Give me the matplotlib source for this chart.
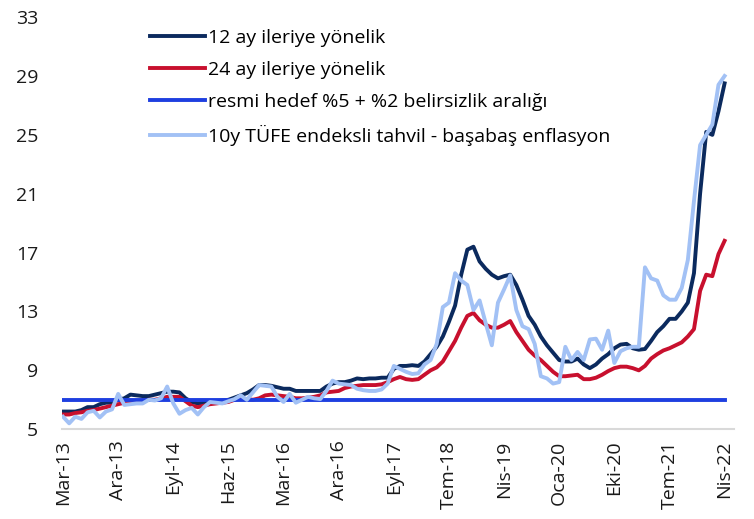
import numpy as np
import matplotlib
matplotlib.use("Agg")
import matplotlib.pyplot as plt

plt.rcParams["font.family"] = ["Open Sans", "DejaVu Sans"]

tick_labels = ["Mar-13", "Ara-13", "Eyl-14", "Haz-15", "Mar-16", "Ara-16", "Eyl-17",
               "Tem-18", "Nis-19", "Oca-20", "Eki-20", "Tem-21", "Nis-22"]

# 12 ay ileriye yonelik beklenti
exp_12m = [6.2, 6.2, 6.2, 6.3, 6.5, 6.5, 6.7, 6.8, 6.8, 7.0,
           7.1, 7.35, 7.3, 7.25, 7.25, 7.35, 7.45, 7.55, 7.55, 7.5,
           7.1, 6.85, 6.75, 6.8, 6.8, 6.9, 6.95, 7.0, 7.15, 7.3,
           7.45, 7.7, 8.0, 8.0, 7.95, 7.85, 7.75, 7.75, 7.6, 7.6,
           7.6, 7.6, 7.6, 7.9, 8.1, 8.2, 8.2, 8.3, 8.45, 8.4,
           8.45, 8.45, 8.5, 8.5, 9.1, 9.3, 9.3, 9.35, 9.3, 9.6,
           10.1, 10.6, 11.3, 12.3, 13.4, 15.5, 17.2, 17.4, 16.4, 15.9,
           15.5, 15.25, 15.4, 15.5, 14.8, 13.8, 12.7, 12.1, 11.3, 10.7,
           10.2, 9.7, 9.6, 9.6, 9.8, 9.4, 9.15, 9.4, 9.8, 10.1,
           10.5, 10.75, 10.8, 10.5, 10.4, 10.45, 11.0, 11.6, 12.0, 12.5,
           12.5, 13.0, 13.6, 15.6, 21.0, 25.2, 25.0, 26.6, 28.5]

# 24 ay ileriye yonelik beklenti
exp_24m = [6.0, 6.0, 6.1, 6.15, 6.25, 6.3, 6.4, 6.5, 6.6, 6.7,
           6.8, 6.9, 6.9, 6.95, 7.0, 7.0, 7.1, 7.2, 7.2, 7.2,
           6.9, 6.6, 6.5, 6.6, 6.7, 6.75, 6.8, 6.85, 7.0, 7.1,
           7.05, 7.0, 7.1, 7.3, 7.35, 7.3, 7.25, 7.2, 7.1, 7.1,
           7.15, 7.2, 7.3, 7.5, 7.55, 7.6, 7.8, 7.9, 7.95, 8.0,
           8.0, 8.0, 8.05, 8.2, 8.4, 8.55, 8.4, 8.35, 8.4, 8.7,
           9.0, 9.2, 9.6, 10.3, 11.0, 11.9, 12.7, 12.9, 12.4, 12.1,
           11.9, 11.9, 12.1, 12.35, 11.6, 11.0, 10.4, 10.0, 9.7, 9.3,
           8.9, 8.6, 8.6, 8.65, 8.7, 8.4, 8.4, 8.5, 8.7, 8.95,
           9.15, 9.25, 9.25, 9.15, 9.0, 9.3, 9.8, 10.1, 10.35, 10.5,
           10.7, 10.9, 11.3, 11.8, 14.4, 15.5, 15.4, 16.9, 17.8]

# 10y TUFE endeksli tahvil - basabas enflasyon
breakeven = [5.85, 5.4, 5.85, 5.7, 6.15, 6.25, 5.8, 6.2, 6.35, 7.4,
             6.65, 6.7, 6.75, 6.75, 7.0, 6.95, 7.1, 7.9, 6.75, 6.05,
             6.3, 6.45, 6.0, 6.5, 6.85, 6.8, 6.75, 6.9, 7.05, 7.3,
             7.0, 7.5, 8.0, 7.95, 7.9, 7.2, 6.85, 7.4, 6.8, 7.0,
             7.2, 7.1, 7.05, 7.6, 8.3, 8.1, 8.05, 8.0, 7.75, 7.65,
             7.6, 7.6, 7.7, 8.1, 9.3, 9.1, 8.9, 8.75, 8.8, 9.4,
             9.7, 10.8, 13.3, 13.6, 15.6, 15.1, 14.8, 13.1, 13.75, 12.2,
             10.7, 13.6, 14.5, 15.45, 13.1, 12.0, 11.8, 10.8, 8.6, 8.45,
             8.1, 8.2, 10.6, 9.7, 10.25, 9.7, 11.1, 11.15, 10.4, 11.7,
             9.5, 10.3, 10.5, 10.6, 10.6, 16.0, 15.25, 15.1, 14.1, 13.8,
             13.8, 14.6, 16.5, 20.5, 24.3, 25.0, 25.7, 28.4, 29.0]

target = [7.0] * len(exp_12m)

n = len(exp_12m)
assert n == len(exp_24m) == len(breakeven) == 109
x = np.arange(n)

fig = plt.figure(figsize=(7.54, 5.19), dpi=100)
ax = fig.add_axes([0.082, 0.173, 0.892, 0.794])

lw = 2.8
ax.plot(x, exp_12m, color="#0b2a5e", lw=lw, label="12 ay ileriye yönelik")
ax.plot(x, exp_24m, color="#c8102e", lw=lw, label="24 ay ileriye yönelik")
ax.plot(x, target, color="#1e3fe0", lw=lw, label="resmi hedef %5 + %2 belirsizlik aralığı")
ax.plot(x, breakeven, color="#a2c1f5", lw=lw, label="10y TÜFE endeksli tahvil - başabaş enflasyon")

ax.set_xlim(-0.2, 109.6)
ax.set_ylim(5, 33)
ax.set_yticks(range(5, 34, 4))
ax.set_xticks(range(0, n, 9))
ax.set_xticklabels(tick_labels, rotation=90)
ax.tick_params(axis="both", length=0, labelsize=14, colors="#1a1a1a")
ax.tick_params(axis="x", pad=8)
ax.tick_params(axis="y", pad=17)

for s in ["top", "right", "left"]:
    ax.spines[s].set_visible(False)
ax.spines["bottom"].set_color("#d9d9d9")
ax.spines["bottom"].set_linewidth(1.5)

ax.legend(loc="upper left", bbox_to_anchor=(150 / 754, 1 - 29 / 519),
          bbox_transform=fig.transFigure, frameon=False, fontsize=14,
          handlelength=2.85, handletextpad=0.15, labelspacing=0.72,
          borderaxespad=0, borderpad=0)

fig.savefig("out.png", dpi=100)
